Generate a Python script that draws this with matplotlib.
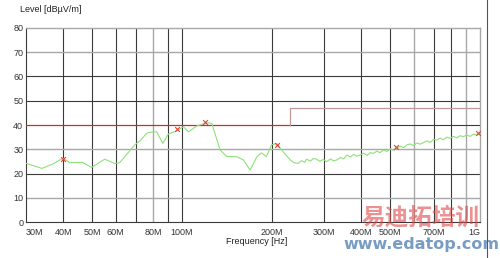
import matplotlib
matplotlib.use("Agg")
import matplotlib.pyplot as plt
import matplotlib.ticker as mtick

# Datos (frecuencia en MHz, nivel en dBuV/m)
freq_mhz = [30, 33.9, 37, 39.9, 42.0, 46.4, 49.8, 55.1, 59.6, 61.9, 69.5,
            72.4, 76.2, 78.0, 82.4, 86.3, 90.1, 96.1, 101.2, 105.1, 112.2,
            121.2, 126.0, 134.3, 141.5, 152.8, 160.8, 169.4, 178.4, 185,
            192, 200, 208, 216, 231, 238, 246, 252, 258, 262, 270, 276,
            283, 290, 298, 306, 315, 323, 331, 340, 349, 358, 367, 377, 386,
            396, 407, 418, 429, 439, 451, 462, 474, 487, 500, 513, 526, 540,
            555, 569, 583, 598, 614, 630, 646, 664, 680, 698, 716, 735, 754,
            774, 794, 815, 836, 858, 880, 903, 927, 951, 976, 1000]
level = [24.2, 22.1, 24.0, 26.3, 24.5, 24.6, 22.5, 25.9, 24.1, 24.5, 31.8,
         33.5, 36.6, 37.0, 37.2, 32.4, 36.3, 37.6, 39.3, 37.2, 39.6,
         40.9, 40.7, 29.7, 27.0, 26.9, 25.6, 21.4, 26.9, 28.5,
         27.0, 31.8, 32.4, 29.7, 25.6, 24.4, 24.2, 25.3, 24.6, 25.9, 25.1, 26.2,
         25.9, 25.0, 25.8, 24.9, 26.0, 25.2, 25.6, 26.6, 26.0, 27.6, 26.8, 27.9, 27.1,
         27.6, 28.4, 27.5, 28.6, 28.3, 29.2, 28.6, 29.7, 29.1, 30.2, 29.6, 30.4, 31.3,
         30.7, 31.8, 32.2, 31.5, 32.6, 32.1, 32.7, 33.5, 32.8, 34.0, 33.8, 34.6, 33.9,
         35.0, 34.5, 35.3, 34.7, 35.6, 35.2, 35.9, 35.3, 36.2, 35.9, 36.3]

# Picos marcados
peak_freq = [40, 96, 120, 208, 522, 984]
peak_level = [26.0, 38.2, 41.4, 31.8, 31.0, 36.6]

# Linea limite (escalon en 230 MHz)
limit_freq = [30, 230, 230, 1000]
limit_level = [40, 40, 47, 47]

tick_freq = [30, 40, 50, 60, 80, 100, 200, 300, 400, 500, 700, 1000]
tick_labels = ["30M", "40M", "50M", "60M", "80M", "100M", "200M", "300M",
               "400M", "500M", "700M", "1G"]

grid_dark = [40, 50, 60, 70, 90, 100, 200, 300, 400, 500, 700, 800]
grid_light = [80, 600, 900]

plt.rcParams['font.family'] = ['Liberation Sans', 'DejaVu Sans']

fig = plt.figure(figsize=(5, 2.58), dpi=100)
ax = fig.add_axes([0.052, 0.1395, 0.908, 0.752])
ax.set_xscale('log')
ax.set_xlim(30, 1000)
ax.set_ylim(0, 80)

# Rejilla
for f in grid_dark:
    ax.axvline(f, color='#3a3a3a', lw=0.8, zorder=1)
for f in grid_light:
    ax.axvline(f, color='#a8a8a8', lw=1.0, zorder=1)
for v in [20, 50, 60]:
    ax.axhline(v, color='#3a3a3a', lw=0.8, zorder=1)
for v in [10, 30, 70]:
    ax.axhline(v, color='#a8a8a8', lw=1.0, zorder=1)
ax.plot([230, 1000], [40, 40], color='#3a3a3a', lw=0.8, zorder=1)

# Limite
ax.plot(limit_freq[:2], limit_level[:2], color='#d42a2a', lw=0.9, zorder=3)
ax.plot(limit_freq[1:], limit_level[1:], color='#c09a98', lw=0.9, zorder=3)

# Traza medida
ax.plot(freq_mhz, level, color='#8ee07a', lw=0.8, zorder=4)
ax.scatter(peak_freq, peak_level, marker='x', s=12, color='#d84a3a',
           linewidths=0.8, zorder=5)

ax.xaxis.set_major_locator(mtick.FixedLocator(tick_freq))
ax.xaxis.set_major_formatter(mtick.FixedFormatter(tick_labels))
ax.xaxis.set_minor_locator(mtick.NullLocator())
ax.set_yticks(range(0, 81, 10))
ax.tick_params(axis='both', length=0, labelsize=6.5, colors='#333333')
ax.tick_params(axis='x', pad=4)
ax.tick_params(axis='y', pad=2)
for lab in ax.get_xticklabels():
    if lab.get_text() == "30M":
        lab.set_ha('left')
    elif lab.get_text() == "1G":
        lab.set_ha('right')

for s in ['left', 'bottom']:
    ax.spines[s].set_color('#3a3a3a')
    ax.spines[s].set_linewidth(0.8)
for s in ['top', 'right']:
    ax.spines[s].set_color('#a8a8a8')
    ax.spines[s].set_linewidth(1.0)

fig.text(20 / 500, 1 - 10 / 258, "Level [dBµV/m]", fontsize=6.5,
         color='#222222', va='center', ha='left')
fig.text(257 / 500, 1 - 242 / 258, "Frequency [Hz]", fontsize=6.5,
         color='#222222', va='center', ha='center')

# Borde de la pagina a la derecha
fig.add_artist(plt.Line2D([487 / 500, 487 / 500], [0, 1], color='#555555',
                          lw=0.8, transform=fig.transFigure))

# Marca de agua
fig.text(421 / 500, 1 - 218 / 258, "易迪拓培训", fontsize=17, fontweight='bold',
         color='#e04848', alpha=0.6, ha='center', va='center',
         family=['Noto Sans CJK SC', 'DejaVu Sans'])
fig.text(421 / 500, 1 - 245 / 258, "www.edatop.com", fontsize=11.5,
         fontweight='bold', color='#3f72aa', alpha=0.7, ha='center',
         va='center', family=['DejaVu Sans'])

fig.savefig("out.png", dpi=100)
